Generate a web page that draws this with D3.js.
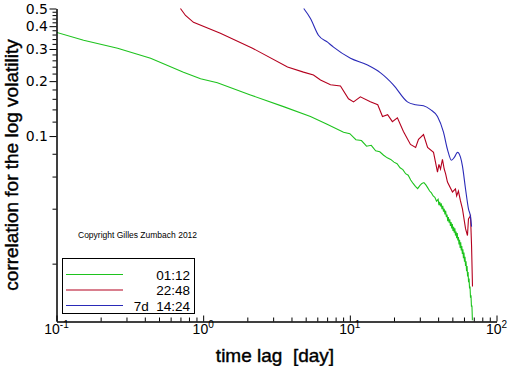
<!DOCTYPE html>
<html>
<head>
<meta charset="utf-8">
<script src="https://cdn.jsdelivr.net/npm/d3@7"></script>
<style>
  body { margin: 0; background: #fff; }
  text { font-family: "Liberation Sans", Arial, sans-serif; fill: #000; }
</style>
</head>
<body>
<svg id="chart" width="512" height="366"></svg>
<script>
// time lag in days / correlation, one pair of arrays per curve
var greenLag = [0.1, 0.153, 0.261, 0.438, 0.734, 0.96, 1.25, 2.1, 3.53, 5.39, 7.0, 9.06,
  10, 11, 12, 13, 14, 15, 16, 17, 18, 19, 20, 21, 22, 23, 24, 25, 26, 27, 28, 29,
  30, 31, 32, 33, 34, 35, 36, 37, 38, 39,
  40, 40.5, 41, 41.5, 42, 42.5, 43, 43.5, 44, 44.5, 45, 45.5, 46, 46.5, 47, 47.5,
  48, 48.5, 49, 49.5, 50, 50.5, 51, 51.5, 52, 52.5, 53, 53.5, 54, 54.5, 55, 55.5,
  56, 56.5, 57, 57.5, 58, 58.5, 59, 59.5, 60, 60.5, 61, 61.5, 62, 62.5, 63, 63.5,
  64, 64.5, 65, 65.5, 66, 66.5, 67, 67.5, 68, 68.5];
var greenCorr = [0.370, 0.335, 0.303, 0.267, 0.224, 0.206, 0.196, 0.168, 0.145, 0.128, 0.116, 0.105,
  0.103, 0.0955, 0.0945, 0.0880, 0.0890, 0.0830, 0.0820, 0.0785, 0.0760, 0.0745, 0.0720, 0.0705, 0.0670, 0.0655, 0.0622, 0.0610, 0.0575, 0.0550, 0.0530, 0.0515,
  0.0535, 0.0550, 0.0556, 0.0540, 0.0520, 0.0500, 0.0488, 0.0470, 0.0462, 0.0440,
  0.0450, 0.0418, 0.0436, 0.0412, 0.0428, 0.0398, 0.0415, 0.0385, 0.0400, 0.0372, 0.0390, 0.0360, 0.0372, 0.0342, 0.0360, 0.0335,
  0.0350, 0.0322, 0.0338, 0.0312, 0.0330, 0.0302, 0.0318, 0.0296, 0.0312, 0.0285, 0.0300, 0.0276, 0.0294, 0.0268, 0.0280, 0.0255,
  0.0270, 0.0244, 0.0262, 0.0236, 0.0250, 0.0226, 0.0240, 0.0214, 0.0230, 0.0205, 0.0218, 0.0194, 0.0206, 0.0182, 0.0194, 0.0170,
  0.0180, 0.0158, 0.0166, 0.0146, 0.0150, 0.0130, 0.0134, 0.0116, 0.0118, 0.0098];

var redLag = [0.70, 0.758, 0.859, 1.31, 2.17, 3.76, 4.83, 5.65, 6.31, 7.38, 8.63, 9.79, 10.6, 11.8,
  13.8, 15.5, 16.7, 18.1, 19.5, 21.1, 23.2, 25.9, 28.1, 29.4, 31.8, 33.9, 37.2, 39.6, 40.5, 41.5,
  42.8, 44, 45, 46.3, 50.1, 52.5, 53.5, 55, 56.8, 58.6, 61.5, 63.4, 64.4, 66.5, 67.6, 68.6];
var redCorr = [0.50, 0.458, 0.420, 0.366, 0.303, 0.239, 0.224, 0.216, 0.203, 0.191, 0.188, 0.160, 0.154, 0.164,
  0.154, 0.1485, 0.128, 0.131, 0.120, 0.126, 0.106, 0.090, 0.0867, 0.0959, 0.102, 0.0867, 0.0814, 0.0634, 0.070, 0.066,
  0.0746, 0.066, 0.062, 0.056, 0.0494, 0.0513, 0.047, 0.050, 0.0441, 0.0399, 0.0311, 0.0285, 0.0352, 0.0366, 0.0251, 0.0150];

var blueLag = [4.85, 5.39, 6.11, 7.05, 7.74, 10.1, 13.2, 16.2, 19.8, 24.7, 28.1, 31.8, 35.5, 39.6,
  43.5, 46.3, 49.3, 51.7, 54.2, 56.8, 58.6, 61.5, 64.4, 66.5, 67.6];
var blueCorr = [0.50, 0.441, 0.357, 0.327, 0.307, 0.267, 0.245, 0.222, 0.191, 0.154, 0.1485, 0.1466, 0.1396, 0.128,
  0.105, 0.0845, 0.0737, 0.0766, 0.0814, 0.0766, 0.0684, 0.0513, 0.0399, 0.0361, 0.0319];

var seriesNames = ['01:12', '22:48', '7d  14:24'];
var seriesColors = ['#1ec31e', '#b4001e', '#2a2ab8'];

var xMajor = [0.1, 1, 10, 100];
var xMajorExp = ['-1', '0', '1', '2'];
var yMajor = [0.5, 0.4, 0.3, 0.2, 0.1];

var svg = d3.select('#chart');

var x = d3.scaleLog().domain([0.1, 100]).range([56.5, 496.5]);
var y = d3.scaleLog().domain([0.0097, 0.5]).range([321, 8.5]);

svg.append('clipPath').attr('id', 'plot')
  .append('rect').attr('x', 57).attr('y', 0).attr('width', 450).attr('height', 321);

var series = [
  { lag: greenLag, corr: greenCorr, curve: d3.curveLinear },
  { lag: redLag, corr: redCorr, curve: d3.curveLinear },
  { lag: blueLag, corr: blueCorr, curve: d3.curveMonotoneX }
];

series.forEach(function (s, i) {
  var pts = s.lag.map(function (d, j) { return [d, s.corr[j]]; });
  var line = d3.line().x(d => x(d[0])).y(d => y(d[1])).curve(s.curve);
  svg.append('path')
    .attr('clip-path', 'url(#plot)')
    .attr('d', line(pts))
    .attr('fill', 'none')
    .attr('stroke', seriesColors[i])
    .attr('stroke-width', 1.1);
});

// x axis: minor ticks 2..9 per decade, major at powers of ten
var xMinor = [];
[0.1, 1, 10].forEach(function (dec) {
  for (var k = 2; k <= 9; k++) xMinor.push(dec * k);
});
var xAxis = d3.axisBottom(x).tickValues(xMajor).tickSizeInner(-6).tickSizeOuter(0).tickFormat('');
var gx = svg.append('g').attr('transform', 'translate(0,321.5)').call(xAxis);
gx.append('g').call(d3.axisBottom(x).tickValues(xMinor).tickSizeInner(-4).tickSizeOuter(0).tickFormat(''));
gx.selectAll('path').attr('stroke', '#000');
gx.selectAll('line').attr('stroke', '#000');

var xl = svg.append('g').selectAll('text').data(xMajor).enter().append('text')
  .attr('x', d => x(d))
  .attr('y', 334)
  .attr('text-anchor', 'middle')
  .style('font-size', '14px');
xl.append('tspan').text('10');
xl.append('tspan').attr('dy', -6).style('font-size', '10px').text((d, i) => xMajorExp[i]);

// y axis: minor ticks every 0.02
var yMinor = d3.range(1, 26).map(k => +(k * 0.02).toFixed(2)).filter(v => yMajor.indexOf(v) < 0);
var gy = svg.append('g').attr('transform', 'translate(56.5,0)');
gy.call(d3.axisLeft(y).tickValues(yMajor).tickSizeInner(7).tickSizeOuter(0).tickFormat(''));
gy.append('g').call(d3.axisLeft(y).tickValues(yMinor).tickSizeInner(4).tickSizeOuter(0).tickFormat(''));
gy.selectAll('path').attr('stroke', '#000');
gy.selectAll('line').attr('stroke', '#000');

svg.append('g').selectAll('text').data(yMajor).enter().append('text')
  .attr('x', 48)
  .attr('y', d => y(d) + 5)
  .attr('text-anchor', 'end')
  .style('font-family', '"DejaVu Sans", sans-serif')
  .style('font-size', '14px')
  .text(d => d);

// axis titles
svg.append('text')
  .attr('x', 275).attr('y', 362)
  .attr('text-anchor', 'middle')
  .attr('xml:space', 'preserve')
  .style('font-size', '19px')
  .style('stroke', '#000').style('stroke-width', 0.4)
  .text('time lag  [day]');

svg.append('text')
  .attr('transform', 'translate(18,165) rotate(-90)')
  .attr('text-anchor', 'middle')
  .style('font-size', '19px')
  .style('stroke', '#000').style('stroke-width', 0.4)
  .text('correlation for the log volatility');

svg.append('text')
  .attr('x', 78).attr('y', 238)
  .style('font-size', '8.5px')
  .text('Copyright Gilles Zumbach 2012');

// legend
var legend = svg.append('g');
legend.append('rect')
  .attr('x', 62.5).attr('y', 258.5).attr('width', 132).attr('height', 55)
  .attr('fill', 'none').attr('stroke', '#000');
seriesNames.forEach(function (name, i) {
  var ly = 274.5 + i * 15.5;
  legend.append('line')
    .attr('x1', 66).attr('x2', 123).attr('y1', ly).attr('y2', ly)
    .attr('stroke', seriesColors[i]).attr('stroke-width', 1.1);
  legend.append('text')
    .attr('x', 190).attr('y', ly + 5)
    .attr('text-anchor', 'end')
    .attr('xml:space', 'preserve')
    .style('font-size', '13.5px')
    .text(name);
});
</script>
</body>
</html>
